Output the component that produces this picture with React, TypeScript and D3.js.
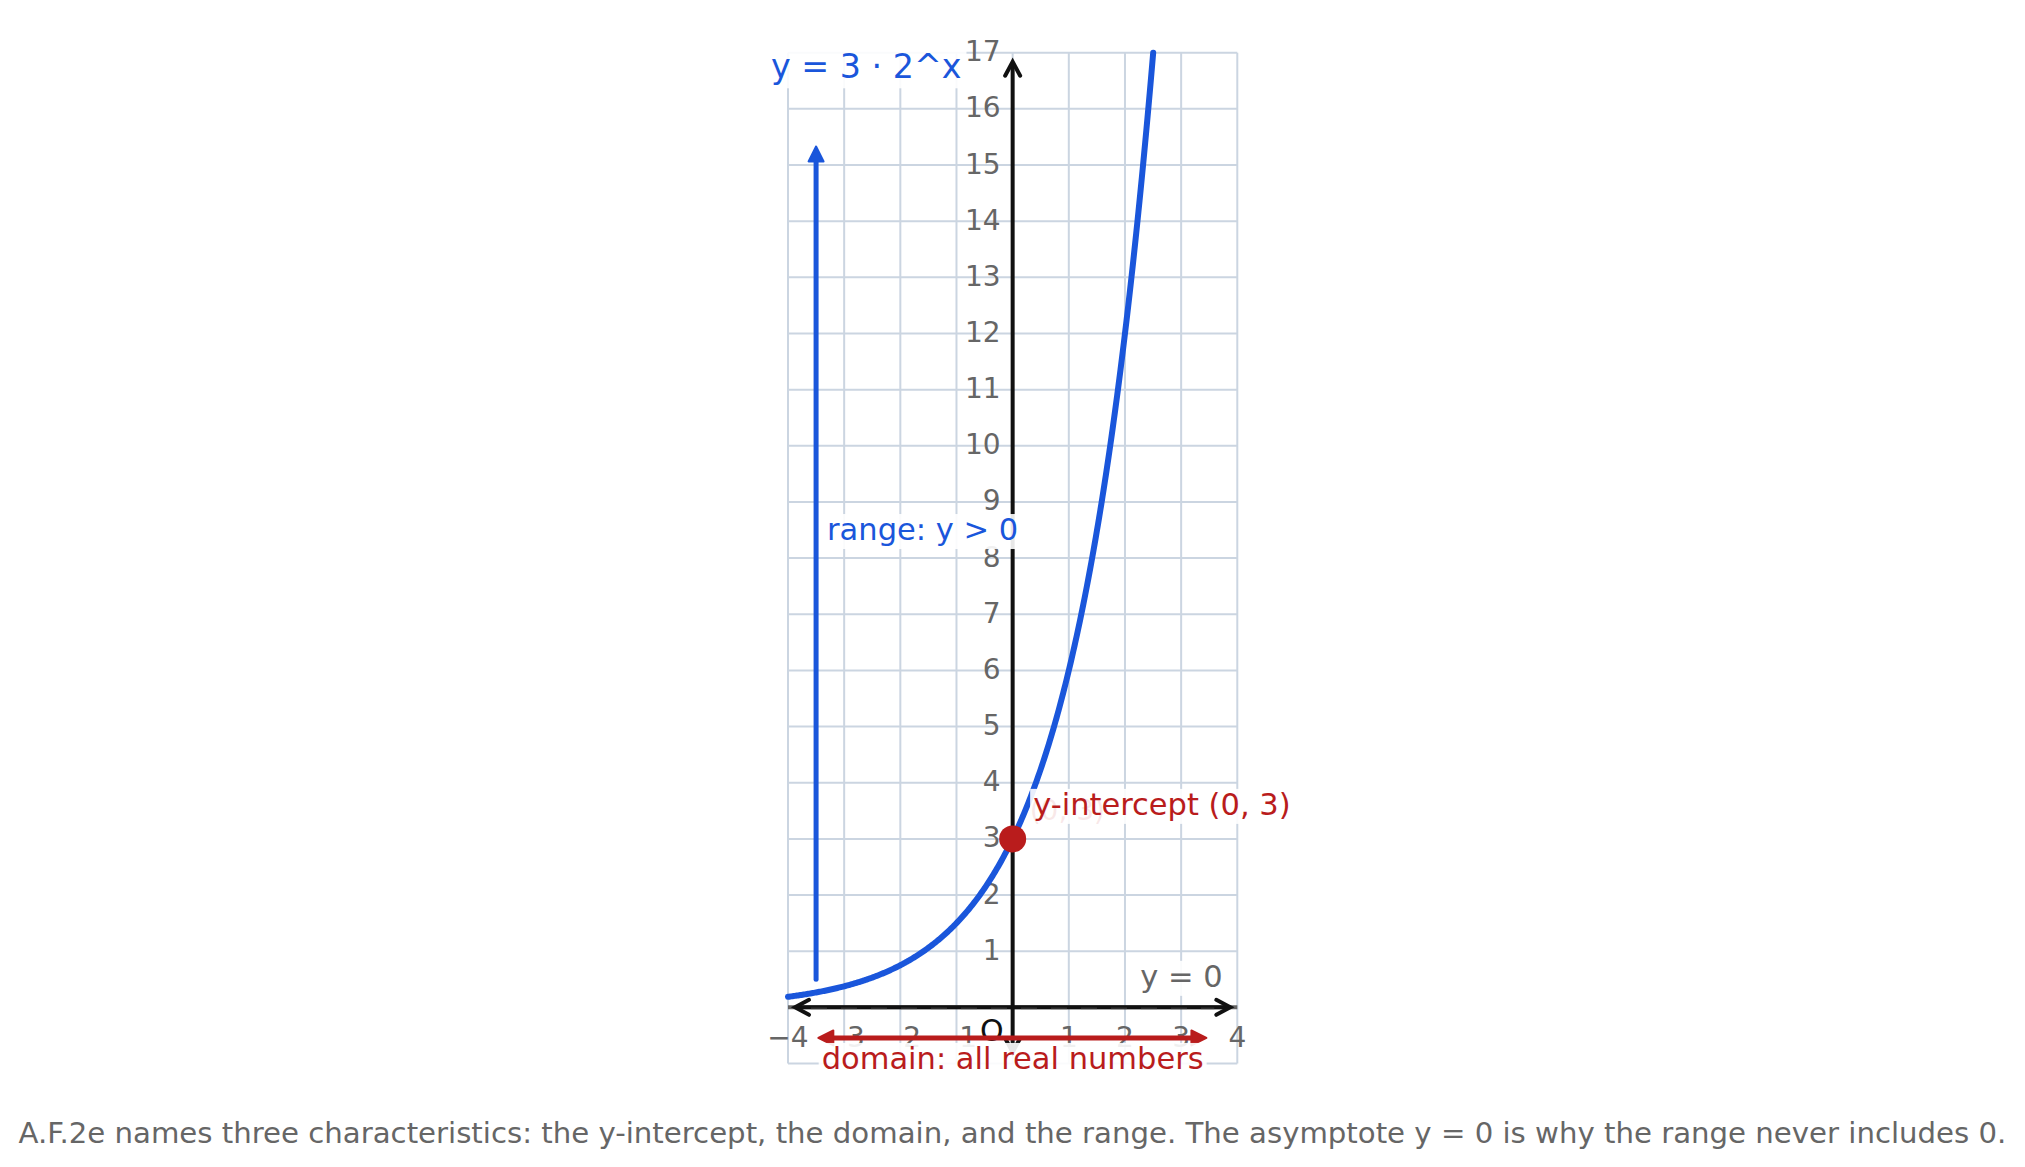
import React, { useEffect, useRef } from 'react';
import * as d3 from 'd3';

const WIDTH = 2025;
const HEIGHT = 1167;
const PLOT = { left: 788, right: 1237.3, top: 52.7, bottom: 1063.5 };

// function y = a * b^x
const COEFFICIENT = 3;
const BASE = 2;

const X_DOMAIN = [-4, 4];
const Y_DOMAIN = [-1, 17];
const gridXs = [-4, -3, -2, -1, 0, 1, 2, 3, 4];
const gridYs = [-1, 0, 1, 2, 3, 4, 5, 6, 7, 8, 9, 10, 11, 12, 13, 14, 15, 16, 17];
const xTicks = [-4, -3, -2, -1, 1, 2, 3, 4];
const yTicks = [1, 2, 3, 4, 5, 6, 7, 8, 9, 10, 11, 12, 13, 14, 15, 16, 17];

const interceptPoint = [0, 3];
const rangeArrow = [-3.5, 0.5, 15.33]; // x, from y, to y
const domainArrow = [-0.545, -3.46, 3.45]; // y, from x, to x
const xAxisEnds = [-3.875, 3.875];
const yAxisEnds = [-0.8, 16.84];

const TITLE = 'y = 3 · 2^x';
const RANGE_LABEL = 'range: y > 0';
const DOMAIN_LABEL = 'domain: all real numbers';
const INTERCEPT_LABEL = 'y-intercept (0, 3)';
const INTERCEPT_GHOST = '(0, 3)';
const ASYMPTOTE_LABEL = 'y = 0';
const CAPTION =
  'A.F.2e names three characteristics: the y-intercept, the domain, and the range. The asymptote y = 0 is why the range never includes 0.';

const BLUE = '#1a56db';
const RED = '#b91c1c';
const GRID = '#cbd5e1';
const GRAY = '#666666';
const FONT = "'DejaVu Sans', sans-serif";

export default function App() {
  const ref = useRef<SVGSVGElement>(null);

  useEffect(() => {
    if (!ref.current) return;
    const svg = d3.select(ref.current);
    svg.selectAll('*').remove();

    const x = d3.scaleLinear().domain(X_DOMAIN).range([PLOT.left, PLOT.right]);
    const y = d3.scaleLinear().domain(Y_DOMAIN).range([PLOT.bottom, PLOT.top]);

    // grid
    const grid = svg.append('g').attr('stroke', GRID).attr('stroke-width', 2);
    grid
      .selectAll('line.v')
      .data(gridXs)
      .enter()
      .append('line')
      .attr('x1', (d) => x(d))
      .attr('x2', (d) => x(d))
      .attr('y1', y(Y_DOMAIN[0]))
      .attr('y2', y(Y_DOMAIN[1]));
    grid
      .selectAll('line.h')
      .data(gridYs)
      .enter()
      .append('line')
      .attr('x1', x(X_DOMAIN[0]))
      .attr('x2', x(X_DOMAIN[1]))
      .attr('y1', (d) => y(d))
      .attr('y2', (d) => y(d));

    // asymptote under the axis
    svg
      .append('line')
      .attr('x1', x(X_DOMAIN[0]))
      .attr('x2', x(X_DOMAIN[1]))
      .attr('y1', y(0))
      .attr('y2', y(0))
      .attr('stroke', GRAY)
      .attr('stroke-width', 4);

    // axes
    const axes = svg
      .append('g')
      .attr('stroke', '#111')
      .attr('stroke-width', 4)
      .attr('fill', 'none');
    axes
      .append('line')
      .attr('x1', x(xAxisEnds[0]) + 2)
      .attr('x2', x(xAxisEnds[1]) - 2)
      .attr('y1', y(0))
      .attr('y2', y(0));
    axes
      .append('line')
      .attr('x1', x(0))
      .attr('x2', x(0))
      .attr('y1', y(yAxisEnds[0]) - 2)
      .attr('y2', y(yAxisEnds[1]) + 2);
    const AL = 14;
    const AW = 7.5;
    const chevrons = [
      `M${x(xAxisEnds[0]) + AL},${y(0) - AW}L${x(xAxisEnds[0])},${y(0)}L${x(xAxisEnds[0]) + AL},${y(0) + AW}`,
      `M${x(xAxisEnds[1]) - AL},${y(0) - AW}L${x(xAxisEnds[1])},${y(0)}L${x(xAxisEnds[1]) - AL},${y(0) + AW}`,
      `M${x(0) - AW},${y(yAxisEnds[1]) + AL}L${x(0)},${y(yAxisEnds[1])}L${x(0) + AW},${y(yAxisEnds[1]) + AL}`,
      `M${x(0) - AW},${y(yAxisEnds[0]) - AL}L${x(0)},${y(yAxisEnds[0])}L${x(0) + AW},${y(yAxisEnds[0]) - AL}`,
    ];
    axes
      .selectAll('path')
      .data(chevrons)
      .enter()
      .append('path')
      .attr('d', (d) => d)
      .attr('stroke-linecap', 'round');

    // faint dashes of the asymptote on top of the axis
    svg
      .append('line')
      .attr('x1', x(xAxisEnds[0]) + 16)
      .attr('x2', x(xAxisEnds[1]) - 16)
      .attr('y1', y(0) + 1.2)
      .attr('y2', y(0) + 1.2)
      .attr('stroke', GRAY)
      .attr('stroke-opacity', 0.35)
      .attr('stroke-width', 2)
      .attr('stroke-dasharray', '16 14');

    // tick labels
    const fmt = d3.format('d');
    svg
      .append('g')
      .selectAll('text')
      .data(xTicks)
      .enter()
      .append('text')
      .attr('x', (d) => x(d))
      .attr('y', y(0) + 39.5)
      .attr('text-anchor', 'middle')
      .style('font-family', FONT)
      .style('font-size', '28px')
      .style('fill', GRAY)
      .text((d) => fmt(d));
    svg
      .append('g')
      .selectAll('text')
      .data(yTicks)
      .enter()
      .append('text')
      .attr('x', x(0) - 12)
      .attr('y', (d) => y(d) + 8.5)
      .attr('text-anchor', 'end')
      .style('font-family', FONT)
      .style('font-size', '28px')
      .style('fill', GRAY)
      .text((d) => fmt(d));
    svg
      .append('text')
      .attr('x', x(0) - 9)
      .attr('y', y(0) + 34)
      .attr('text-anchor', 'end')
      .style('font-family', FONT)
      .style('font-size', '30px')
      .style('fill', '#111')
      .text('O');

    // curve y = 3 * 2^x
    const xEnd = Math.log(Y_DOMAIN[1] / COEFFICIENT) / Math.log(BASE);
    const xs = d3.range(X_DOMAIN[0], xEnd, 0.02).concat([xEnd]);
    const line = d3
      .line<number>()
      .x((d) => x(d))
      .y((d) => y(COEFFICIENT * Math.pow(BASE, d)));
    svg
      .append('path')
      .attr('d', line(xs))
      .attr('fill', 'none')
      .attr('stroke', BLUE)
      .attr('stroke-width', 6)
      .attr('stroke-linecap', 'round');

    // range arrow
    const HL = 15;
    const HW = 7.5;
    const rx = x(rangeArrow[0]);
    const rTip = y(rangeArrow[2]);
    svg
      .append('line')
      .attr('x1', rx)
      .attr('x2', rx)
      .attr('y1', y(rangeArrow[1]))
      .attr('y2', rTip + HL - 1)
      .attr('stroke', BLUE)
      .attr('stroke-width', 5)
      .attr('stroke-linecap', 'round');
    svg
      .append('path')
      .attr('d', `M${rx},${rTip}L${rx - HW},${rTip + HL}L${rx + HW},${rTip + HL}Z`)
      .attr('fill', BLUE)
      .attr('stroke', BLUE)
      .attr('stroke-width', 2)
      .attr('stroke-linejoin', 'round');

    // domain arrow
    const dy = y(domainArrow[0]);
    const dl = x(domainArrow[1]);
    const dr = x(domainArrow[2]);
    svg
      .append('line')
      .attr('x1', dl + HL - 2)
      .attr('x2', dr - HL + 2)
      .attr('y1', dy)
      .attr('y2', dy)
      .attr('stroke', RED)
      .attr('stroke-width', 5);
    svg
      .selectAll('path.dhead')
      .data([
        `M${dl},${dy}L${dl + HL},${dy - HW}L${dl + HL},${dy + HW}Z`,
        `M${dr},${dy}L${dr - HL},${dy - HW}L${dr - HL},${dy + HW}Z`,
      ])
      .enter()
      .append('path')
      .attr('d', (d) => d)
      .attr('fill', RED)
      .attr('stroke', RED)
      .attr('stroke-width', 2)
      .attr('stroke-linejoin', 'round');

    // y-intercept point
    svg
      .append('circle')
      .attr('cx', x(interceptPoint[0]))
      .attr('cy', y(interceptPoint[1]))
      .attr('r', 13.5)
      .attr('fill', RED);
    svg
      .append('text')
      .attr('x', x(interceptPoint[0]) + 17)
      .attr('y', y(interceptPoint[1]) - 19)
      .style('font-family', FONT)
      .style('font-size', '28px')
      .style('fill', RED)
      .text(INTERCEPT_GHOST);

    // labels with white backing
    const label = (
      text: string,
      px: number,
      py: number,
      size: number,
      color: string,
      anchor: string,
      pad: number
    ) => {
      const g = svg.append('g');
      const rect = g.append('rect');
      const t = g
        .append('text')
        .attr('x', px)
        .attr('y', py)
        .attr('text-anchor', anchor)
        .style('font-family', FONT)
        .style('font-size', `${size}px`)
        .style('fill', color)
        .text(text);
      const b = (t.node() as SVGTextElement).getBBox();
      rect
        .attr('x', b.x - pad)
        .attr('y', b.y + 2)
        .attr('width', b.width + pad * 2)
        .attr('height', b.height)
        .attr('fill', '#fff')
        .attr('fill-opacity', 0.9);
    };

    label(TITLE, x(X_DOMAIN[0]) - 17, y(Y_DOMAIN[1]) + 25.6, 33.3, BLUE, 'start', 5);
    label(RANGE_LABEL, x(rangeArrow[0]) + 11, y(8.5) + 10, 30.5, BLUE, 'start', 3);
    label(INTERCEPT_LABEL, x(interceptPoint[0]) + 20.5, y(interceptPoint[1]) - 24, 30.5, RED, 'start', 3);
    label(ASYMPTOTE_LABEL, x(3.74), y(0) - 20.5, 30.5, GRAY, 'end', 4);
    label(DOMAIN_LABEL, x(0), y(domainArrow[0]) + 31, 30.5, RED, 'middle', 3);

    // caption
    svg
      .append('text')
      .attr('x', WIDTH / 2)
      .attr('y', 1142.7)
      .attr('text-anchor', 'middle')
      .style('font-family', FONT)
      .style('font-size', '29.2px')
      .style('fill', GRAY)
      .text(CAPTION);
  }, []);

  return (
    <div style={{ position: 'absolute', left: 0, top: 0, background: '#fff' }}>
      <svg ref={ref} width={WIDTH} height={HEIGHT} />
    </div>
  );
}
